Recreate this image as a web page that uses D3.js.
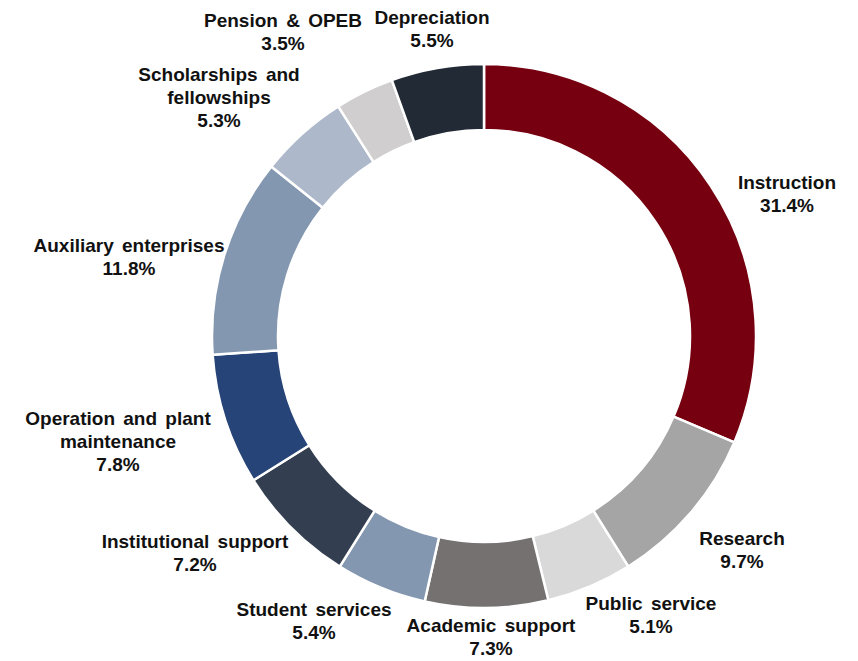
<!DOCTYPE html>
<html>
<head>
<meta charset="utf-8">
<script src="https://cdn.jsdelivr.net/npm/d3@7"></script>
<style>
  body { margin: 0; background: #fff; }
  svg text { font-family: "Liberation Sans", Arial, sans-serif; font-weight: bold; fill: #111; }
</style>
</head>
<body>
<div id="chart_div"></div>
<script>
// data, clockwise from 12 o'clock
var categories = [
  "Instruction", "Research", "Public service", "Academic support",
  "Student services", "Institutional support", "Operation and plant maintenance",
  "Auxiliary enterprises", "Scholarships and fellowships", "Pension & OPEB", "Depreciation"
];
var shares = [31.4, 9.7, 5.1, 7.3, 5.4, 7.2, 7.8, 11.8, 5.3, 3.5, 5.5];
var sliceColors = [
  "#760010", "#a5a5a5", "#d9d9d9", "#767171", "#8497b0", "#333f50",
  "#264478", "#8497b0", "#adb9ca", "#d0cece", "#222a35"
];
// how each label is broken into lines
var labelLines = [
  ["Instruction"], ["Research"], ["Public service"], ["Academic support"],
  ["Student services"], ["Institutional support"], ["Operation and plant", "maintenance"],
  ["Auxiliary enterprises"], ["Scholarships and", "fellowships"], ["Pension & OPEB"], ["Depreciation"]
];

// layout
var width = 858, height = 661;
var cx = 484, cy = 336;
var outerR = 272, innerR = 206;
var lineH = 23;
// label block centres (placed by hand in the original)
var labelAt = [
  [787, 194], [742, 550], [651, 615], [491, 637], [314, 621], [195, 553],
  [118, 441], [129, 257], [219, 97], [283, 32], [432, 29]
];

var svg = d3.select("#chart_div")
  .append("svg")
  .attr("width", width)
  .attr("height", height);

var g = svg.append("g")
  .attr("transform", "translate(" + cx + "," + cy + ")");

var pie = d3.pie().sort(null).value(function(d) { return d; });
var arc = d3.arc().innerRadius(innerR).outerRadius(outerR);

g.selectAll("path")
  .data(pie(shares))
  .enter()
  .append("path")
  .attr("d", arc)
  .attr("fill", function(d, i) { return sliceColors[i]; })
  .attr("stroke", "#fff")
  .attr("stroke-width", 2.5)
  .attr("stroke-linejoin", "round");

// labels
var labels = svg.selectAll("text.lbl")
  .data(categories)
  .enter()
  .append("text")
  .attr("class", "lbl")
  .attr("text-anchor", "middle")
  .attr("font-size", "19px")
  .attr("word-spacing", "3px");

labels.each(function(d, i) {
  var lines = labelLines[i].concat([shares[i].toFixed(1) + "%"]);
  var t = d3.select(this);
  var top = labelAt[i][1] - (lines.length - 1) * lineH / 2;
  lines.forEach(function(s, k) {
    t.append("tspan")
      .attr("x", labelAt[i][0])
      .attr("y", top + k * lineH)
      .attr("dominant-baseline", "central")
      .text(s);
  });
});
</script>
</body>
</html>
